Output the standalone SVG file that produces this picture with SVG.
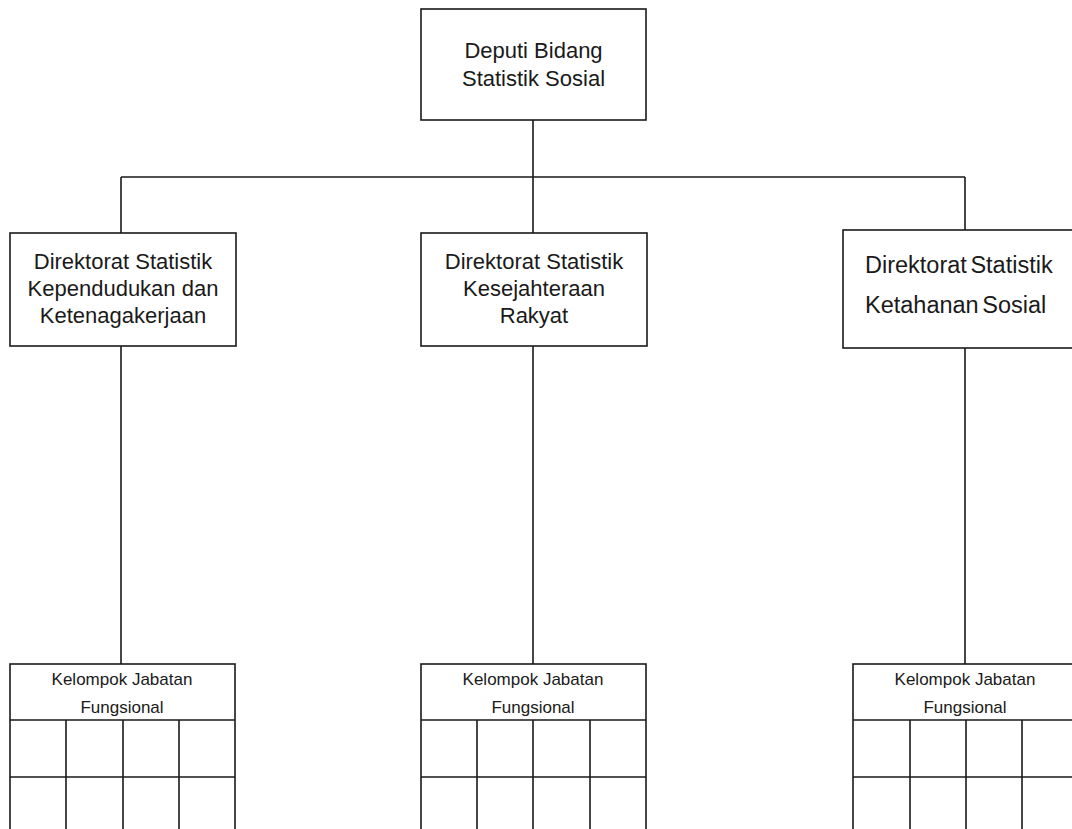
<svg xmlns="http://www.w3.org/2000/svg" width="1072" height="829" viewBox="0 0 1072 829">
<style>
.box{fill:#fff;stroke:#1a1a1a;stroke-width:1.6}
.ln{fill:none;stroke:#1a1a1a;stroke-width:1.6}
.t{font-family:"Liberation Sans",Arial,sans-serif;font-size:22px;fill:#1a1a1a;text-anchor:middle}
.t2{font-family:"Liberation Sans",Arial,sans-serif;font-size:23.5px;fill:#1a1a1a;word-spacing:-3px}
.s{font-family:"Liberation Sans",Arial,sans-serif;font-size:17px;fill:#1a1a1a;text-anchor:middle}
</style>
<rect width="1072" height="829" fill="#fff"/>
<g id="connectors">
<path class="ln" d="M533 120V177M121 177H965M121 177V233M533 177V233M965 177V230"/>
<path class="ln" d="M121 346V664M533 346V664M965 348V664"/>
</g>
<g id="deputi">
<rect class="box" x="421" y="9" width="225" height="111"/>
<text class="t" x="533.5" y="58">Deputi Bidang</text>
<text class="t" x="533.5" y="86">Statistik Sosial</text>
</g>
<g id="dir-kependudukan">
<rect class="box" x="10" y="233" width="226" height="113"/>
<text class="t" x="123" y="269">Direktorat Statistik</text>
<text class="t" x="123" y="296">Kependudukan dan</text>
<text class="t" x="123" y="323">Ketenagakerjaan</text>
</g>
<g id="dir-kesejahteraan">
<rect class="box" x="421" y="233" width="226" height="113"/>
<text class="t" x="534" y="269">Direktorat Statistik</text>
<text class="t" x="534" y="296">Kesejahteraan</text>
<text class="t" x="534" y="323">Rakyat</text>
</g>
<g id="dir-ketahanan">
<rect class="box" x="843" y="230" width="240" height="118" stroke-width="2"/>
<text class="t2" x="865" y="273">Direktorat Statistik</text>
<text class="t2" x="865" y="313">Ketahanan Sosial</text>
</g>
<g id="jf-1">
<rect class="box" x="10" y="664" width="225" height="180"/>
<path class="ln" d="M10 720H235M10 777H235M66 720V829M123 720V829M179 720V829"/>
<text class="s" x="122" y="685">Kelompok Jabatan</text>
<text class="s" x="122" y="713">Fungsional</text>
</g>
<g id="jf-2">
<rect class="box" x="421" y="664" width="225" height="180"/>
<path class="ln" d="M421 720H646M421 777H646M477 720V829M533 720V829M590 720V829"/>
<text class="s" x="533" y="685">Kelompok Jabatan</text>
<text class="s" x="533" y="713">Fungsional</text>
</g>
<g id="jf-3">
<rect class="box" x="853" y="664" width="240" height="180"/>
<path class="ln" d="M853 720H1072M853 777H1072M910 720V829M966 720V829M1022 720V829"/>
<text class="s" x="965" y="685">Kelompok Jabatan</text>
<text class="s" x="965" y="713">Fungsional</text>
</g>
</svg>
